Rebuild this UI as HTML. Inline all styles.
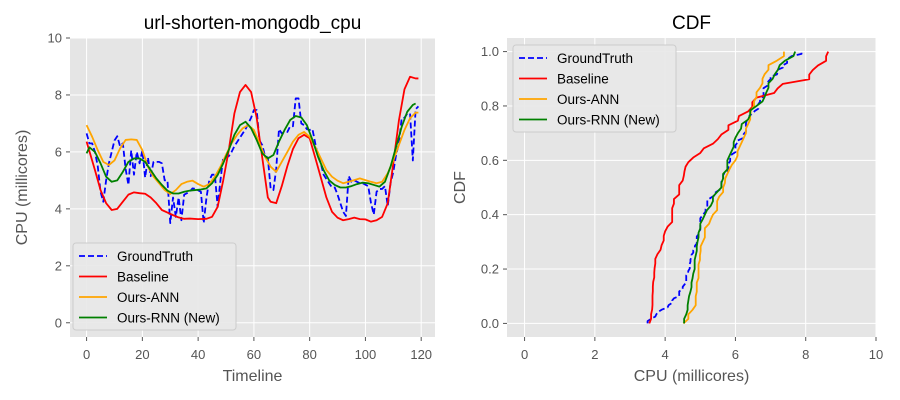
<!DOCTYPE html>
<html><head><meta charset="utf-8"><style>
body{margin:0;background:#fff;}
svg{display:block;font-family:"Liberation Sans","DejaVu Sans",sans-serif;}
</style></head><body>
<svg id="fig" width="900" height="400"></svg>
<script>
const tGT=[...Array(120).keys()];
const gtVals=[6.65,6.3,6.3,6.0,5.5,4.6,4.25,5.0,5.6,6.0,6.4,6.55,6.2,6.3,5.4,4.84,6.05,5.2,6.0,5.6,6.05,5.1,5.8,5.15,5.65,5.65,5.65,5.6,5.0,5.0,3.5,4.4,3.72,4.4,3.6,4.5,4.55,4.6,4.72,4.7,4.65,4.6,3.5,4.4,5.0,5.2,5.2,4.07,5.0,5.8,5.8,5.85,6.0,6.2,6.35,6.5,6.65,6.8,7.0,7.2,7.47,7.47,6.4,6.24,5.85,5.8,4.72,4.66,5.4,6.8,6.65,6.7,6.7,6.9,6.9,7.88,7.88,7.0,6.94,6.8,6.77,6.8,6.3,5.85,5.6,5.2,5.05,4.9,4.75,4.75,4.5,4.2,3.9,3.75,5.15,4.95,5.0,4.95,4.9,4.9,4.85,4.8,4.2,3.8,4.6,4.7,4.7,4.8,4.1,4.9,5.3,5.9,6.3,7.18,7.2,7.35,7.35,5.7,7.5,7.6];
const tBase=[0,3,5,7,9,11,13,15,17,19,21,23,25,27,29,31,33,35,37,40,43,45,47,49,51,53,55,57,59,61,63,65,66,68,70,72,74,76,78,80,82,84,86,88,90,92,94,96,98,100,102,104,106,108,110,112,114,116,118,119];
const baseVals=[6.36,5.36,4.66,4.2,3.96,4.0,4.25,4.5,4.58,4.55,4.53,4.4,4.2,3.96,3.87,3.78,3.7,3.65,3.66,3.64,3.65,3.72,4.07,5.0,6.07,7.35,8.1,8.35,8.1,7.2,5.8,4.4,4.25,4.2,4.8,5.5,6.1,6.48,6.6,6.48,5.8,5.1,4.4,3.9,3.69,3.6,3.64,3.69,3.64,3.63,3.55,3.6,3.72,4.2,5.6,7.1,8.2,8.64,8.58,8.58];
const tANN=[0,2,4,6,8,10,12,14,16,18,20,22,24,26,28,30,32,34,36,38,40,42,44,46,48,50,52,54,56,58,60,62,64,66,68,70,72,74,76,78,80,82,84,86,88,90,92,94,96,98,100,102,104,106,108,110,112,114,116,118,119];
const annVals=[6.94,6.53,6.06,5.65,5.54,5.7,6.12,6.42,6.44,6.42,6.06,5.48,5.13,4.9,4.66,4.52,4.66,4.87,4.95,4.99,4.87,4.78,4.87,5.13,5.48,5.9,6.3,6.6,6.83,6.94,6.77,6.3,5.83,5.48,5.3,5.65,6.0,6.36,6.6,6.7,6.53,6.18,5.77,5.36,5.13,4.99,4.9,4.95,5.01,5.07,5.01,4.95,4.9,4.95,5.25,5.71,6.24,6.77,7.18,7.38,7.38];
const tRNN=[0,1,3,5,7,9,11,13,15,17,19,21,23,25,27,29,31,33,35,37,39,41,43,45,47,49,51,53,55,57,59,61,63,65,67,69,71,73,75,77,79,81,83,85,87,89,91,93,95,97,99,101,103,105,107,109,111,113,115,117,118];
const rnnVals=[5.95,6.16,6.0,5.6,5.13,4.95,5.0,5.3,5.65,5.77,5.77,5.65,5.36,5.07,4.84,4.64,4.54,4.54,4.6,4.64,4.66,4.68,4.72,4.9,5.19,5.6,6.07,6.6,6.94,7.06,6.83,6.42,5.95,5.77,5.89,6.36,6.77,7.12,7.26,7.21,6.94,6.42,5.83,5.36,5.0,4.84,4.75,4.75,4.8,4.87,4.92,4.9,4.84,4.78,4.95,5.48,6.18,6.88,7.41,7.65,7.7];
const xTicksL=[0,20,40,60,80,100,120], yTicksL=[0,2,4,6,8,10];
const xTicksR=[0,2,4,6,8,10], yTicksR=[0.0,0.2,0.4,0.6,0.8,1.0];
const seriesNames=["GroundTruth","Baseline","Ours-ANN","Ours-RNN (New)"];
const colors=["blue","red","orange","green"];

const NS="http://www.w3.org/2000/svg", svg=document.getElementById('fig');
function mk(tag,attrs,parent){const e=document.createElementNS(NS,tag);for(const k in attrs)e.setAttribute(k,attrs[k]);(parent||svg).appendChild(e);return e;}
function lin(d0,d1,r0,r1){return v=>r0+(v-d0)/(d1-d0)*(r1-r0);}

function axes(name,L,R,T,B,xd,yd,xt,yt,xfmt,yfmt,title,xl,yl){
  const g=mk('g',{});
  
  const X=lin(xd[0],xd[1],L,R),Y=lin(yd[0],yd[1],B,T);
  mk('rect',{x:L,y:T,width:R-L,height:B-T,fill:'#e5e5e5'},g);
  xt.forEach(v=>{const x=X(v);
    const gl=mk('line',{x1:x,x2:x,y1:T,y2:B,stroke:'#fff','stroke-width':1},g);
    
    mk('line',{x1:x,x2:x,y1:B,y2:B+4,stroke:'#555'},g);
    const t=mk('text',{x:x,y:B+22,'text-anchor':'middle','font-size':13,fill:'#555'},g);t.textContent=xfmt(v);
    });
  yt.forEach(v=>{const y=Y(v);
    const gl=mk('line',{x1:L,x2:R,y1:y,y2:y,stroke:'#fff','stroke-width':1},g);
    
    mk('line',{x1:L-4,x2:L,y1:y,y2:y,stroke:'#555'},g);
    const t=mk('text',{x:L-8,y:y+4.5,'text-anchor':'end','font-size':13,fill:'#555'},g);t.textContent=yfmt(v);
    });
  const tt=mk('text',{x:(L+R)/2,y:29,'text-anchor':'middle','font-size':19,fill:'#000'},g);tt.textContent=title;
  
  const xa=mk('text',{x:(L+R)/2,y:381,'text-anchor':'middle','font-size':16,fill:'#555'},g);xa.textContent=xl;
  
  const cy=(T+B)/2, cx=name==='time-series-panel'?27:465;
  const ya=mk('text',{x:cx,y:cy,'text-anchor':'middle','font-size':16,fill:'#555',transform:`rotate(-90 ${cx} ${cy})`},g);ya.textContent=yl;
  
  const clip='clip'+name;const cp=mk('clipPath',{id:clip},g);mk('rect',{x:L,y:T,width:R-L,height:B-T},cp);
  const pg=mk('g',{'clip-path':`url(#${clip})`},g);
  return {X,Y,g,pg};
}
function line(ax,xs,ys,i,nm){
  const d=xs.map((x,k)=>(k?'L':'M')+ax.X(x).toFixed(2)+','+ax.Y(ys[k]).toFixed(2)).join('');
  const p=mk('path',{d:d,fill:'none',stroke:colors[i],'stroke-width':1.8,'stroke-linejoin':'round','stroke-dasharray':i===0?'6,3':'none'},ax.pg);
  
}
function legend(ax,x,y){
  const g=mk('g',{},ax.g);
  
  mk('rect',{x:x,y:y,width:163,height:87,rx:3,fill:'#e8e8e8',stroke:'#cccccc','fill-opacity':0.9},g);
  seriesNames.forEach((n,i)=>{const yy=y+13+i*20.5;
    const e=mk('g',{},g);
    mk('line',{x1:x+6,x2:x+34,y1:yy,y2:yy,stroke:colors[i],'stroke-width':1.8,'stroke-dasharray':i===0?'6,3':'none'},e);
    const t=mk('text',{x:x+44,y:yy+5,'font-size':13.5,fill:'#000'},e);t.textContent=n;});
}
const A=axes('time-series-panel',70,435,38,337,[-5.95,124.95],[-0.5,10],xTicksL,yTicksL,v=>v,v=>v,'url-shorten-mongodb_cpu','Timeline','CPU (millicores)');
line(A,tGT,gtVals,0,'groundtruth-line');
line(A,tBase,baseVals,1,'baseline-line');
line(A,tANN,annVals,2,'ours-ann-line');
line(A,tRNN,rnnVals,3,'ours-rnn-line');
legend(A,73,243);

const B=axes('cdf-panel',507,876,38,337,[-0.5,10],[-0.05,1.05],xTicksR,yTicksR,v=>v,v=>v.toFixed(1),'CDF','CPU (millicores)','CDF');
[gtVals,baseVals,annVals,rnnVals].forEach((vals,i)=>{
  const s=vals.slice().sort((a,b)=>a-b);const ps=s.map((_,k)=>k/(s.length-1));
  line(B,s,ps,i,['groundtruth','baseline','ours-ann','ours-rnn'][i]+'-cdf-line');
});
legend(B,513,45);
</script>
</body></html>
